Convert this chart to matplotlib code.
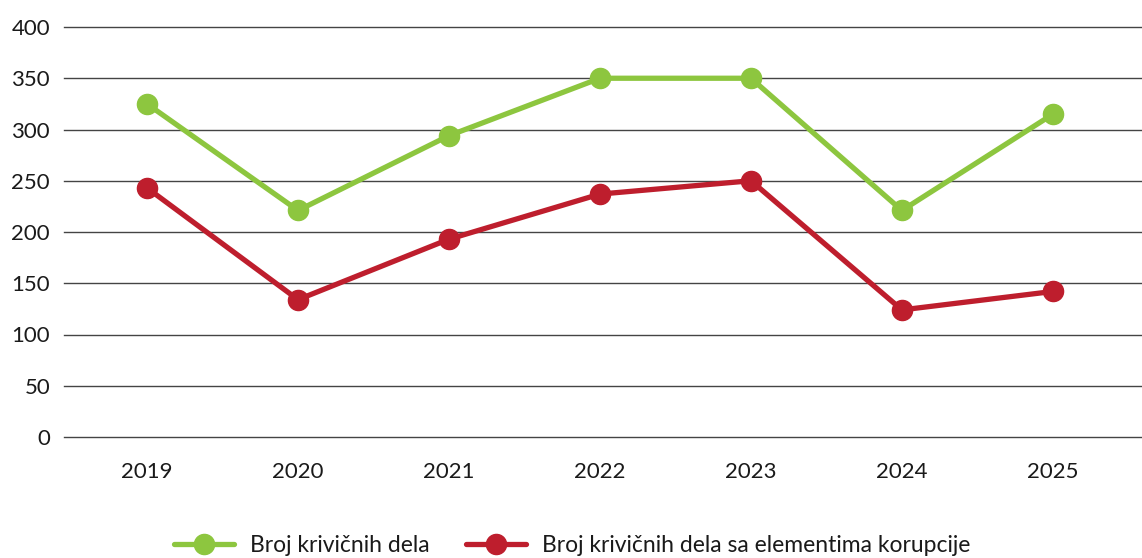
import matplotlib
matplotlib.use("Agg")
import matplotlib.pyplot as plt

years = ["2019", "2020", "2021", "2022", "2023", "2024", "2025"]
krivicna_dela = [325, 221, 294, 350, 350, 221, 315]
korupcija = [243, 134, 193, 237, 250, 124, 142]
yticks = [0, 50, 100, 150, 200, 250, 300, 350, 400]

plt.rcParams['font.family'] = ['Lato', 'DejaVu Sans']

fig = plt.figure(figsize=(11.42, 5.58), dpi=100)
ax = fig.add_axes([64/1142, 1-437/558, (1142-64)/1142, (437-27)/558])

x = list(range(len(years)))
green = '#8DC63F'
red = '#BE1E2D'
ax.plot(x, krivicna_dela, color=green, lw=3.8, marker='o', ms=14.5,
        solid_capstyle='round', label='Broj krivičnih dela', zorder=3)
ax.plot(x, korupcija, color=red, lw=3.8, marker='o', ms=14.5,
        solid_capstyle='round', label='Broj krivičnih dela sa elementima korupcije', zorder=3)

ax.set_ylim(0, 400)
ax.set_xlim(-0.55, 6.59)
ax.set_yticks(yticks)
ax.set_xticks(x)
ax.set_xticklabels(years)
for s in ax.spines.values():
    s.set_visible(False)
for yv in yticks:
    ax.axhline(yv, color='#444444', lw=1.0, zorder=1, clip_on=False)
ax.tick_params(axis='both', length=0, labelsize=16, colors='#1a1a1a')
ax.tick_params(axis='y', pad=10)
ax.tick_params(axis='x', pad=18)

leg = fig.legend(loc='center', bbox_to_anchor=(572/1142, 1-546/558), ncol=2,
                 frameon=False, fontsize=16.5, handlelength=2.6, columnspacing=1.6,
                 handletextpad=0.7)
for t in leg.get_texts():
    t.set_color('#1a1a1a')

fig.savefig('out.png', dpi=100)
